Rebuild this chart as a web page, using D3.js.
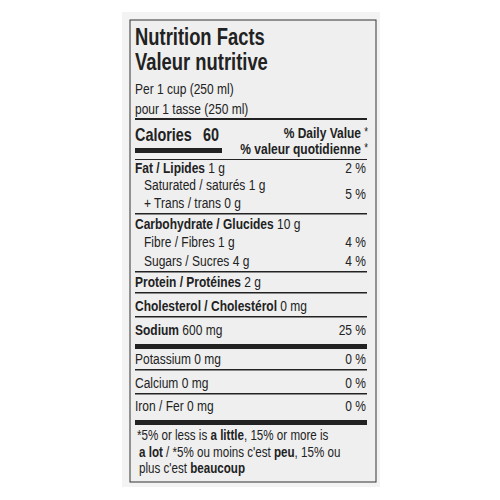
<!DOCTYPE html>
<html><head><meta charset="utf-8">
<script src="https://cdn.jsdelivr.net/npm/d3@7"></script>
<style>body{margin:0;background:#fff}text{font-family:"Liberation Sans",Arial,sans-serif;fill:#222}</style>
</head><body><div id="label"></div>
<script>
// label content
var titles = ["Nutrition Facts", "Valeur nutritive"];
var serving = ["Per 1 cup (250 ml)", "pour 1 tasse (250 ml)"];
var calories = 60;
var dvHead = ["% Daily Value", "% valeur quotidienne"];
// [bold part, plain part, indent, percent, rule after]
var nutrients = [
  ["Fat / Lipides", " 1 g", 0, "2 %", "none"],
  ["", "Saturated / saturés 1 g", 1, "5 %", "none"],
  ["", "+ Trans / trans 0 g", 1, "", "thin"],
  ["Carbohydrate / Glucides", " 10 g", 0, "", "none"],
  ["", "Fibre / Fibres 1 g", 1, "4 %", "none"],
  ["", "Sugars / Sucres 4 g", 1, "4 %", "thin"],
  ["Protein / Protéines", " 2 g", 0, "", "thin"],
  ["Cholesterol / Cholestérol", " 0 mg", 0, "", "thin"],
  ["Sodium", " 600 mg", 0, "25 %", "thick"],
  ["", "Potassium 0 mg", 0, "0 %", "thin"],
  ["", "Calcium 0 mg", 0, "0 %", "thin"],
  ["", "Iron / Fer 0 mg", 0, "0 %", "thick"]
];
var rowHeights = [0, 17, 18, 21, 18, 19, 21, 24, 24, 29, 24, 23];
var footnote = [
  [["*5% or less is ", false], ["a little", true], [", 15% or more is", false]],
  [["a lot", true], [" / *5% ou moins c'est ", false], ["peu", true], [", 15% ou", false]],
  [["plus c'est ", false], ["beaucoup", true]]
];

var W = 500, H = 500, SX = 0.8;
var left = 135, right = 366;
var svg = d3.select("#label").append("svg").attr("width", W).attr("height", H);

svg.append("rect").attr("x", 122).attr("y", 12).attr("width", 258).attr("height", 475).attr("fill", "#f3f3f3");
svg.append("rect").attr("x", 130).attr("y", 20).attr("width", 246).attr("height", 462)
  .attr("fill", "#efefef").attr("stroke", "#333").attr("stroke-width", 1);

function line(y, w, x2) {
  svg.append("rect").attr("x", left).attr("y", y).attr("width", (x2 || right + 1) - left).attr("height", w).attr("fill", "#222");
}
// condensed text: squeeze horizontally
function txt(x, y, size, anchor) {
  return svg.append("text").attr("transform", "translate(" + x + "," + y + ") scale(" + SX + ",1)")
    .attr("font-size", size).attr("text-anchor", anchor || "start");
}

titles.forEach(function(d, i) { txt(left, 45 + i * 25, 23).attr("font-weight", "bold").text(d); });
serving.forEach(function(d, i) { txt(left, 94 + i * 20, 15).text(d); });
line(118, 2);

txt(left, 141, 18).attr("font-weight", "bold").text("Calories").append("tspan").attr("dx", 14).text(calories);
line(148, 5, 222);
dvHead.forEach(function(d, i) {
  txt(right - 5, 138 + i * 16, 15, "end").attr("font-weight", "bold").text(d);
  txt(right + 2, 136 + i * 16, 12, "end").text("*");
});
line(159, 1);

var ys = d3.cumsum(rowHeights).map(function(v) { return 173 + v; });
nutrients.forEach(function(n, i) {
  var y = ys[i];
  var t = txt(left + (n[2] ? 9 : 0), y, 15);
  if (n[0]) t.append("tspan").attr("font-weight", "bold").text(n[0]);
  t.append("tspan").text(n[1]);
  if (n[3]) txt(right, i === 1 ? y + 9 : y, 15, "end").text(n[3]);
  if (n[4] === "thin") line(y + 5, 1.5);
  if (n[4] === "thick") line(y + 9, 5);
});

footnote.forEach(function(parts, i) {
  var t = txt(left + (i ? 4 : 2), 440 + i * 16.5, 14.5);
  parts.forEach(function(p) { t.append("tspan").attr("font-weight", p[1] ? "bold" : "normal").text(p[0]); });
});
</script></body></html>
